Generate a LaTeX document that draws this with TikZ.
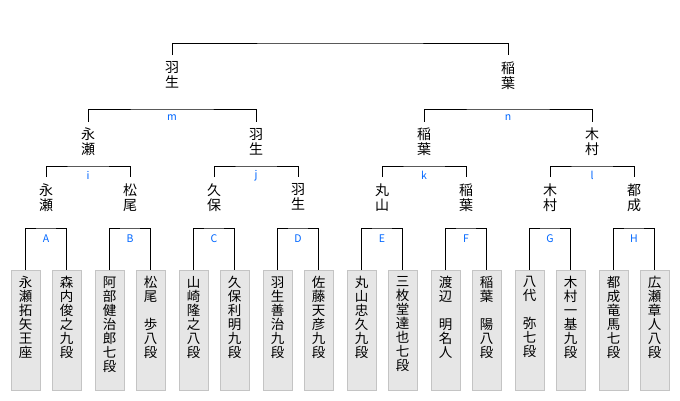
\documentclass[tikz,border=0pt]{standalone}
\usepackage{fontspec}
\setmainfont{Noto Sans CJK JP}
\usetikzlibrary{positioning}
\definecolor{roundblue}{RGB}{0,102,255}
\definecolor{cardfill}{RGB}{230,230,230}
\definecolor{cardedge}{RGB}{196,196,196}
\newcommand\tatebox[1]{\parbox[c][120pt][t]{29pt}{\centering\fontsize{13.5}{14}\selectfont\vspace*{6pt}#1\par}}

\begin{document}
\begin{tikzpicture}[x=1pt,y=-1pt,line width=1pt,
  who/.style={font=\fontsize{14}{15}\selectfont,align=center,anchor=north,inner xsep=0pt,inner ysep=6pt},
  card/.style={fill=cardfill,draw=cardedge,line width=.8pt,anchor=north,inner sep=0pt},
  roundlbl/.style={font=\fontsize{10.5}{11}\selectfont,text=roundblue,inner sep=0pt}]
  \useasboundingbox (0,0) rectangle (680,400);

  % players
  \foreach \i/\x/\txt in {1/25.5/{永\\瀬\\拓\\矢\\王\\座}, 2/66.5/{森\\内\\俊\\之\\九\\段},
      3/109.5/{阿\\部\\健\\治\\郎\\七\\段}, 4/150.5/{松\\尾\\\mbox{}\\歩\\八\\段},
      5/193.5/{山\\崎\\隆\\之\\八\\段}, 6/234.5/{久\\保\\利\\明\\九\\段},
      7/277.5/{羽\\生\\善\\治\\九\\段}, 8/318.5/{佐\\藤\\天\\彦\\九\\段},
      9/361.5/{丸\\山\\忠\\久\\九\\段}, 10/402.5/{三\\枚\\堂\\達\\也\\七\\段},
      11/445.5/{渡\\辺\\\mbox{}\\明\\名\\人}, 12/486.5/{稲\\葉\\\mbox{}\\陽\\八\\段},
      13/529.5/{八\\代\\\mbox{}\\弥\\七\\段}, 14/570.5/{木\\村\\一\\基\\九\\段},
      15/613.5/{都\\成\\竜\\馬\\七\\段}, 16/654.5/{広\\瀬\\章\\人\\八\\段}}
    \node[card] (p\i) at (\x,270) {\tatebox{\txt}};

  % first round
  \foreach \a/\b/\l/\x in {1/2/A/46, 3/4/B/130, 5/6/C/214, 7/8/D/298,
      9/10/E/382, 11/12/F/466, 13/14/G/550, 15/16/H/634} {
    \coordinate (m\l) at (\x,228);
    \node[roundlbl] (l\l) at (\x,239) {\l};
    \draw (p\a.north) |- (m\l) -| (p\b.north);
  }

  % second round
  \foreach \i/\x/\txt in {1/46/{永\\瀬}, 2/130/{松\\尾}, 3/214/{久\\保}, 4/298/{羽\\生},
      5/382/{丸\\山}, 6/466/{稲\\葉}, 7/550/{木\\村}, 8/634/{都\\成}}
    \node[who] (s\i) at (\x,177) {\txt};
  \foreach \a/\b/\l/\x in {1/2/i/88, 3/4/j/256, 5/6/k/424, 7/8/l/592} {
    \coordinate (m\l) at (\x,166);
    \node[roundlbl] (l\l) at (\x,175.5) {\l};
    \draw (s\a.north) |- (m\l) -| (s\b.north);
  }

  % semi-finals
  \foreach \i/\x/\txt in {1/88/{永\\瀬}, 2/256/{羽\\生}, 3/424/{稲\\葉}, 4/592/{木\\村}}
    \node[who] (q\i) at (\x,121.5) {\txt};
  \foreach \a/\b/\l/\x in {1/2/m/172, 3/4/n/508} {
    \coordinate (m\l) at (\x,109);
    \node[roundlbl] (l\l) at (\x,118) {\l};
    \draw (q\a.north) |- (m\l) -| (q\b.north);
  }

  % final
  \node[who] (t1) at (172,55) {羽\\生};
  \node[who] (t2) at (508,55) {稲\\葉};
  \coordinate (mf) at (340,43);
  \draw (t1.north) |- (mf) -| (t2.north);
\end{tikzpicture}
\end{document}
